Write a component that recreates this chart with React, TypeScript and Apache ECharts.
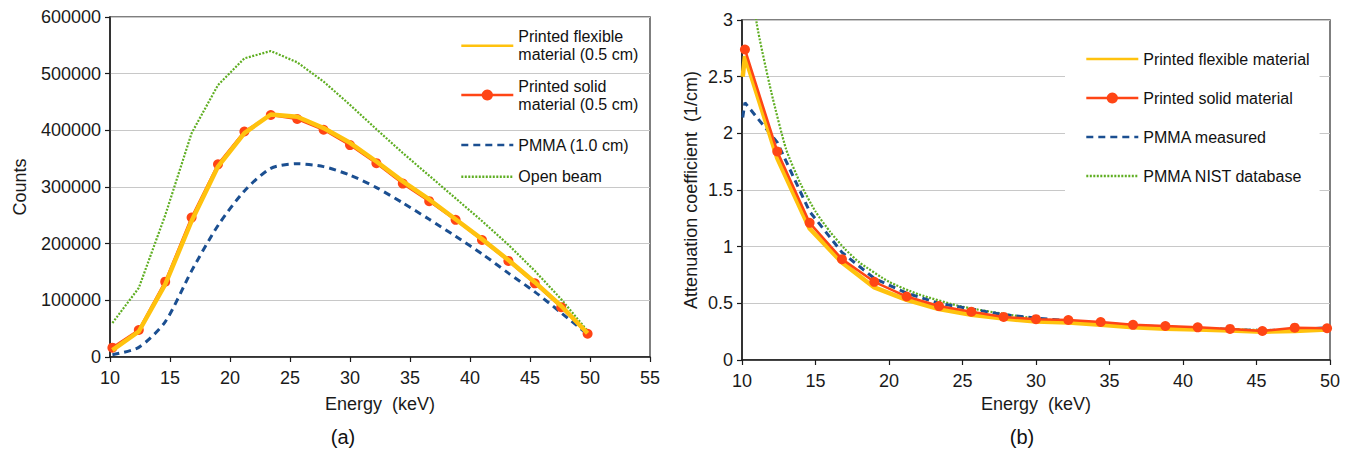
import React, { useEffect, useRef } from 'react';
import * as echarts from 'echarts';

// ---------- Data: panel (a) counts ----------
const energyA = [10.2, 12.4, 14.6, 16.8, 19.0, 21.2, 23.4, 25.6, 27.8, 30.0, 32.2, 34.4, 36.6, 38.8, 41.0, 43.2, 45.4, 47.6, 49.8];
const flexibleCounts = [12000, 45000, 128000, 240000, 336000, 395000, 428000, 424000, 404000, 378000, 345000, 310000, 278000, 243000, 208000, 171000, 132000, 90000, 42000];
const solidCounts = [16500, 47600, 133000, 246000, 340000, 398000, 427000, 420000, 401000, 374000, 342000, 306000, 275000, 242000, 206500, 169500, 130000, 88000, 41000];
const pmmaCounts = [4000, 17000, 62000, 152000, 232000, 293000, 333000, 341000, 336000, 321000, 299000, 272000, 243000, 213000, 182000, 148000, 115000, 78000, 40000];
const openBeamCounts = [60000, 122000, 250000, 395000, 480000, 527000, 540000, 520000, 486000, 445000, 402000, 360000, 320000, 280000, 240000, 198000, 152000, 102000, 46000];

// ---------- Data: panel (b) attenuation ----------
const energyBExt = [10.05, 10.2, 12.4, 14.6, 16.8, 19.0, 21.2, 23.4, 25.6, 27.8, 30.0, 32.2, 34.4, 36.6, 38.8, 41.0, 43.2, 45.4, 47.6, 49.8];
const energyB = [10.2, 12.4, 14.6, 16.8, 19.0, 21.2, 23.4, 25.6, 27.8, 30.0, 32.2, 34.4, 36.6, 38.8, 41.0, 43.2, 45.4, 47.6, 49.8];
const flexibleMu = [2.5, 2.68, 1.78, 1.16, 0.86, 0.64, 0.53, 0.45, 0.4, 0.365, 0.34, 0.33, 0.31, 0.29, 0.275, 0.27, 0.26, 0.25, 0.255, 0.27];
const solidMu = [2.74, 1.84, 1.21, 0.89, 0.69, 0.56, 0.476, 0.426, 0.38, 0.36, 0.353, 0.335, 0.31, 0.3, 0.288, 0.274, 0.256, 0.285, 0.28];
const pmmaMu = [2.14, 2.27, 1.92, 1.31, 0.95, 0.72, 0.59, 0.5, 0.45, 0.4, 0.37, 0.345, 0.325, 0.305, 0.29, 0.28, 0.27, 0.26, 0.265, 0.285];
const nistEnergy = [10, 11, 12, 13, 14, 15, 16, 17, 18, 20, 22, 25, 30, 35, 40, 45, 50];
const nistMu = [4.0, 2.97, 2.36, 1.86, 1.55, 1.31, 1.13, 0.98, 0.86, 0.69, 0.58, 0.47, 0.365, 0.315, 0.285, 0.265, 0.255];

const xTicksA = { min: 10, max: 55, interval: 5 };
const xTicksB = { min: 10, max: 50, interval: 5 };
const yTicksA = { min: 0, max: 600000, interval: 100000 };
const yTicksB = { min: 0, max: 3, interval: 0.5 };

const FONT = '"Liberation Sans", Arial, Helvetica, sans-serif';
const C_YELLOW = '#FFC20E';
const C_RED = '#FF4515';
const C_BLUE = '#1B4F91';
const C_GREEN = '#5FAE22';
const AXIS = '#1a1a1a';

const pair = (xs: number[], ys: number[]) => xs.map((x, i) => [x, ys[i]]);

export default function App() {
  const ref = useRef<HTMLDivElement>(null);
  useEffect(() => {
    if (!ref.current) return;
    const chart = echarts.init(ref.current, undefined, { renderer: 'svg' });

    const xAxisCommon = (gridIndex: number, t: any, nameGap: number) => ({
      type: 'value',
      gridIndex,
      min: t.min,
      max: t.max,
      interval: t.interval,
      name: 'Energy  (keV)',
      nameLocation: 'middle',
      nameGap,
      nameTextStyle: { fontFamily: FONT, fontSize: 18, color: AXIS },
      axisLine: { show: true, lineStyle: { color: AXIS, width: 1.5 } },
      axisTick: { show: true, length: 5, lineStyle: { color: AXIS, width: 1.2 } },
      axisLabel: { fontFamily: FONT, fontSize: 18, color: AXIS, margin: 12 },
      splitLine: { show: false },
    });
    const yAxisCommon = (gridIndex: number, t: any, name: string, nameGap: number, fmt?: any) => ({
      type: 'value',
      gridIndex,
      min: t.min,
      max: t.max,
      interval: t.interval,
      name,
      nameLocation: 'middle',
      nameGap,
      nameRotate: 90,
      nameTextStyle: { fontFamily: FONT, fontSize: 18, color: AXIS },
      axisLine: { show: true, lineStyle: { color: AXIS, width: 1.5 } },
      axisTick: { show: true, length: 5, lineStyle: { color: AXIS, width: 1.2 } },
      axisLabel: { fontFamily: FONT, fontSize: 18, color: AXIS, margin: 9, formatter: fmt },
      splitLine: { show: true, lineStyle: { color: '#c8c8c8', width: 1.2 } },
    });

    const hideMarker = { opacity: 0 };
    const legLine = { width: 2.6 };

    const legendA = (name: string, top: number, text: string, twoLine: boolean, marker: boolean) => ({
      show: true,
      left: 460,
      top,
      padding: 0,
      orient: 'vertical',
      itemWidth: 52,
      itemHeight: 14,
      data: [marker ? { name, lineStyle: legLine } : { name, itemStyle: hideMarker, lineStyle: legLine }],
      formatter: () => text,
      textStyle: twoLine
        ? { fontFamily: FONT, fontSize: 16, color: '#111', lineHeight: 18, padding: [18, 0, 0, 0] }
        : { fontFamily: FONT, fontSize: 16, color: '#111', lineHeight: 18 },
    });

    const option: any = {
      animation: false,
      backgroundColor: '#fff',
      grid: [
        { left: 110, right: 700, top: 17, bottom: 102, show: true, borderColor: '#555', borderWidth: 1.5, containLabel: false },
        { left: 742, right: 20, top: 20, bottom: 99, show: true, borderColor: '#555', borderWidth: 1.5, containLabel: false },
      ],
      xAxis: [xAxisCommon(0, xTicksA, 38), xAxisCommon(1, xTicksB, 35)],
      yAxis: [
        yAxisCommon(0, yTicksA, 'Counts', 81, (v: number) => String(v)),
        yAxisCommon(1, yTicksB, 'Attenuation coefficient  (1/cm)', 42),
      ],
      legend: [
        legendA('Printed flexible material (0.5 cm)', 18.7, 'Printed flexible\nmaterial (0.5 cm)', true, false),
        legendA('Printed solid material (0.5 cm)', 68, 'Printed solid\nmaterial (0.5 cm)', true, true),
        legendA('PMMA (1.0 cm)', 136, 'PMMA (1.0 cm)', false, false),
        legendA('Open beam', 167.7, 'Open beam', false, false),
        {
          show: true,
          left: 1065,
          top: 30,
          padding: [20, 10, 20, 20],
          backgroundColor: '#fff',
          orient: 'vertical',
          itemWidth: 52,
          itemHeight: 14,
          itemGap: 21,
          data: [
            { name: 'Printed flexible material', itemStyle: hideMarker, lineStyle: legLine },
            { name: 'Printed solid material', lineStyle: legLine },
            { name: 'PMMA measured', itemStyle: hideMarker, lineStyle: legLine },
            { name: 'PMMA NIST database', itemStyle: hideMarker, lineStyle: legLine },
          ],
          textStyle: { fontFamily: FONT, fontSize: 16, color: '#111', lineHeight: 18 },
        },
      ],
      graphic: [
        { type: 'text', x: 343, y: 437, style: { text: '(a)', font: `20px ${FONT}`, fill: '#111', textAlign: 'center', textVerticalAlign: 'middle' } },
        { type: 'text', x: 1022, y: 437, style: { text: '(b)', font: `20px ${FONT}`, fill: '#111', textAlign: 'center', textVerticalAlign: 'middle' } },
      ],
      series: [
        // panel (a)
        {
          name: 'Printed flexible material (0.5 cm)', type: 'line', xAxisIndex: 0, yAxisIndex: 0, z: 4,
          data: pair(energyA, flexibleCounts), symbol: 'none', lineStyle: { color: C_YELLOW, width: 4.5 }, itemStyle: { color: C_YELLOW },
        },
        {
          name: 'Printed solid material (0.5 cm)', type: 'line', xAxisIndex: 0, yAxisIndex: 0, z: 3,
          data: pair(energyA, solidCounts), symbol: 'circle', symbolSize: 10, lineStyle: { color: C_RED, width: 2.5 }, itemStyle: { color: C_RED },
        },
        {
          name: 'PMMA (1.0 cm)', type: 'line', xAxisIndex: 0, yAxisIndex: 0, z: 2, smooth: 0.25,
          data: pair(energyA, pmmaCounts), symbol: 'none', lineStyle: { color: C_BLUE, width: 3, type: [7, 5] }, itemStyle: { color: C_BLUE },
        },
        {
          name: 'Open beam', type: 'line', xAxisIndex: 0, yAxisIndex: 0, z: 1,
          data: pair(energyA, openBeamCounts), symbol: 'none', lineStyle: { color: C_GREEN, width: 2.2, type: [2, 1.5] }, itemStyle: { color: C_GREEN },
        },
        // panel (b)
        {
          name: 'Printed flexible material', type: 'line', xAxisIndex: 1, yAxisIndex: 1, z: 3,
          data: pair(energyBExt, flexibleMu), symbol: 'none', lineStyle: { color: C_YELLOW, width: 4.5 }, itemStyle: { color: C_YELLOW },
        },
        {
          name: 'Printed solid material', type: 'line', xAxisIndex: 1, yAxisIndex: 1, z: 4,
          data: pair(energyB, solidMu), symbol: 'circle', symbolSize: 10, lineStyle: { color: C_RED, width: 2.5 }, itemStyle: { color: C_RED },
        },
        {
          name: 'PMMA measured', type: 'line', xAxisIndex: 1, yAxisIndex: 1, z: 2,
          data: pair(energyBExt, pmmaMu), symbol: 'none', lineStyle: { color: C_BLUE, width: 3, type: [7, 5] }, itemStyle: { color: C_BLUE },
        },
        {
          name: 'PMMA NIST database', type: 'line', xAxisIndex: 1, yAxisIndex: 1, z: 1, smooth: 0.2,
          data: pair(nistEnergy, nistMu), symbol: 'none', lineStyle: { color: C_GREEN, width: 2.2, type: [2, 1.5] }, itemStyle: { color: C_GREEN },
        },
      ],
    };
    chart.setOption(option);
    return () => chart.dispose();
  }, []);
  return (
    <div
      ref={ref}
      style={{ position: 'absolute', left: 0, top: 0, width: 1350, height: 459, background: '#fff' }}
    />
  );
}
